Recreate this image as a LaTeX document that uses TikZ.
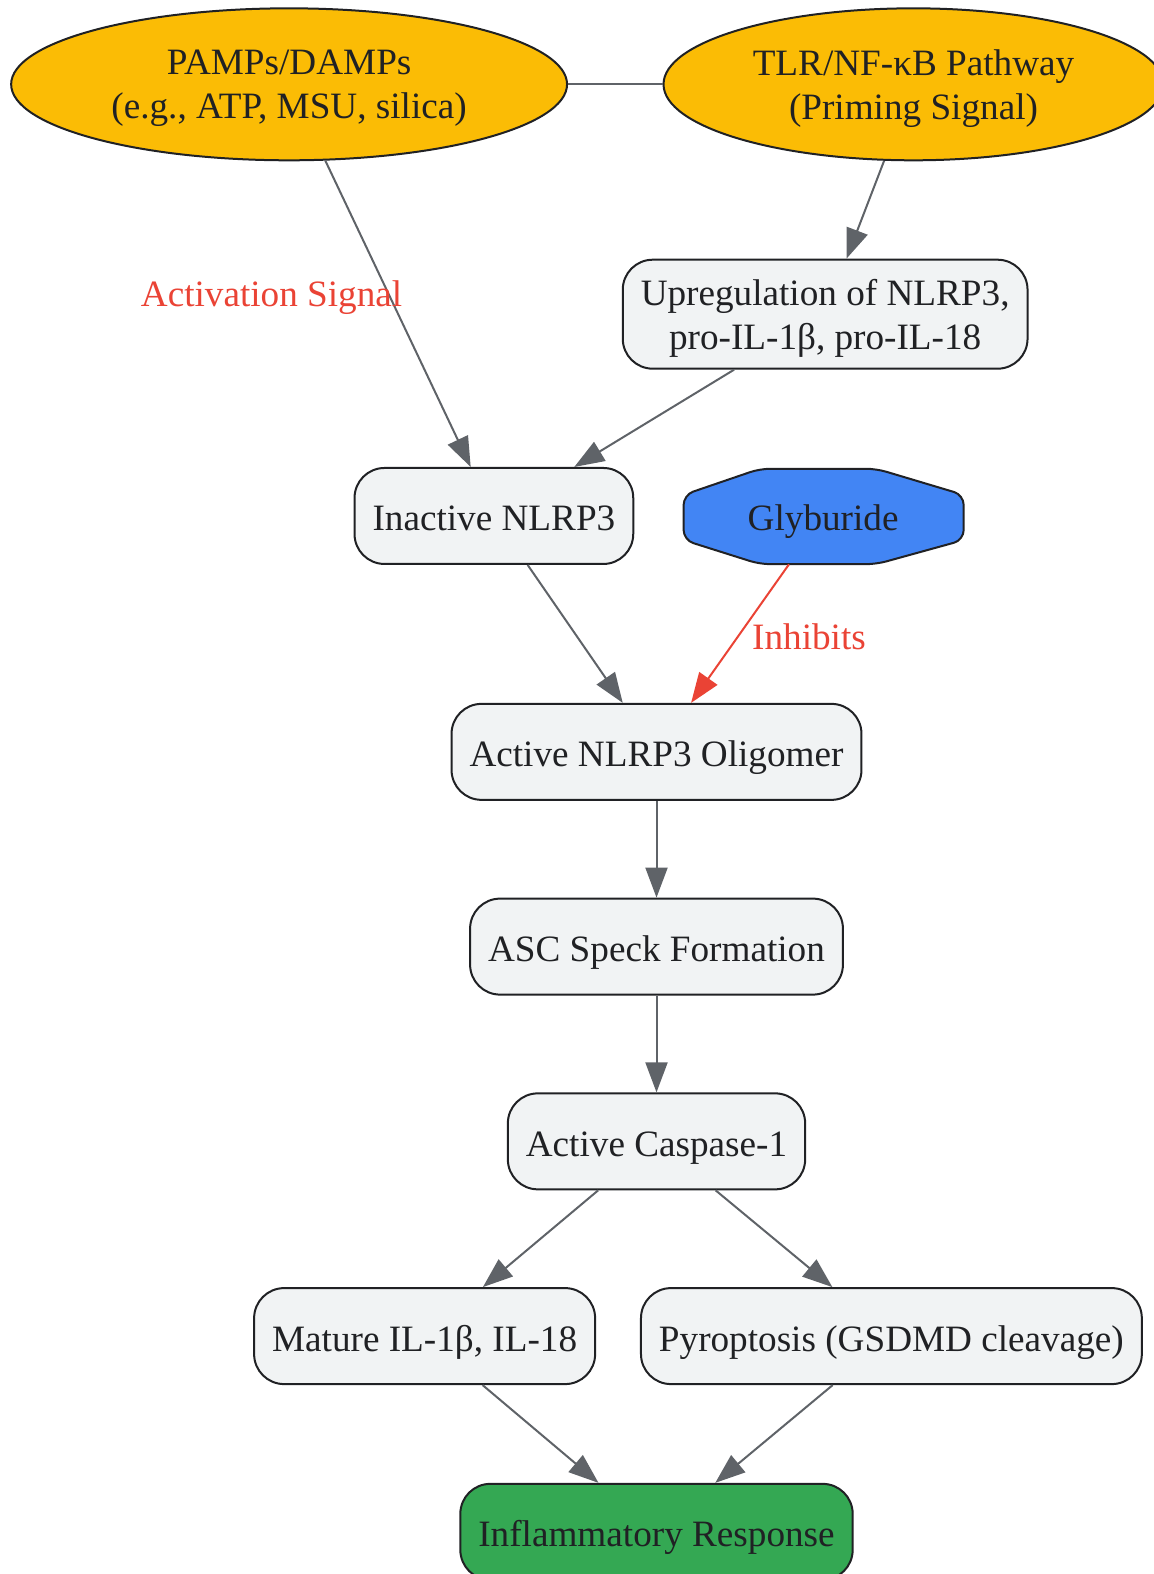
\documentclass[tikz,border=0pt]{standalone}
\usepackage{fontspec}
\setmainfont{Liberation Serif}
\usetikzlibrary{arrows.meta}
\usetikzlibrary{shapes.geometric}
\definecolor{sigyellow}{HTML}{FBBC05}
\definecolor{drugblue}{HTML}{4285F4}
\definecolor{outgreen}{HTML}{34A853}
\definecolor{boxgrey}{HTML}{F1F3F4}
\definecolor{boxline}{HTML}{202124}
\definecolor{linkgrey}{HTML}{5F6368}
\definecolor{warnred}{HTML}{EA4335}
\tikzset{>={Triangle[length=15pt,width=11pt]}}
\tikzset{
    stepbox/.style={draw=boxline, fill=boxgrey, line width=1pt, rounded corners=15pt,
        minimum height=48pt, inner xsep=9pt, text=boxline, align=center,
        text height=15pt, text depth=0pt},
    signal/.style={ellipse, draw=boxline, fill=sigyellow, line width=1pt, inner sep=0pt,
        minimum height=76pt, text=boxline, align=center, text depth=0pt},
    flow/.style={draw=linkgrey, line width=1pt},
    elabel/.style={text=warnred},
}

\begin{document}
\begin{tikzpicture}[x=0.502pt, y=-0.502pt,
    every node/.style={font=\fontsize{18.6}{22}\selectfont}]
		\useasboundingbox (0,0) rectangle (1149,1568);
		% signals
		\node[signal, minimum width=278pt] (pamps) at (288,84) {PAMPs/DAMPs\\(e.g., ATP, MSU, silica)};
		\node[signal, minimum width=250pt] (tlr) at (910,84) {TLR/NF-κB Pathway\\(Priming Signal)};
		\node[stepbox, minimum height=54.5pt, text height=] (upreg) at (822,313) {Upregulation of NLRP3,\\pro-IL-1β, pro-IL-18};
		\node[stepbox] (inactive) at (492,514) {Inactive NLRP3};
		% inhibitor
		\draw[draw=boxline, fill=drugblue, line width=1pt, rounded corners=5pt]
			(757,467) -- (873,467) -- (960,493) -- (960,538) -- (873,562) -- (757,562) -- (681,538) -- (681,493) -- cycle;
		\node[minimum width=139.5pt, minimum height=48pt, inner sep=0pt, text=boxline,
			text height=15pt, text depth=0pt] (glyb) at (820,514) {Glyburide};
		\node[stepbox] (active) at (654,749) {Active NLRP3 Oligomer};
		\node[stepbox] (asc) at (654,943) {ASC Speck Formation};
		\node[stepbox] (casp) at (654,1137) {Active Caspase-1};
		\node[stepbox] (mature) at (423,1331) {Mature IL-1β, IL-18};
		\node[stepbox] (pyro) at (888,1331) {Pyroptosis (GSDMD cleavage)};
		\node[stepbox, fill=outgreen] (infl) at (654,1526) {Inflammatory Response};
		% links
		\draw[flow] (pamps) -- (tlr);
		\draw[flow, ->] (pamps) -- (inactive) node[elabel, pos=0.435, xshift=-58.5pt, yshift=-2pt] {Activation Signal};
		\draw[flow, ->] (tlr) -- (upreg);
		\draw[flow, ->] (upreg) -- (inactive);
		\draw[flow, ->] (inactive) -- (active);
		\draw[flow, draw=warnred, ->] (glyb) -- (active) node[elabel, pos=0.52, xshift=35.5pt] {Inhibits};
		\draw[flow, ->] (active) -- (asc);
		\draw[flow, ->] (asc) -- (casp);
		\draw[flow, ->] (casp) -- (mature);
		\draw[flow, ->] (casp) -- (pyro);
		\draw[flow, ->] (mature) -- (infl);
		\draw[flow, ->] (pyro) -- (infl);
	\end{tikzpicture}
\end{document}
